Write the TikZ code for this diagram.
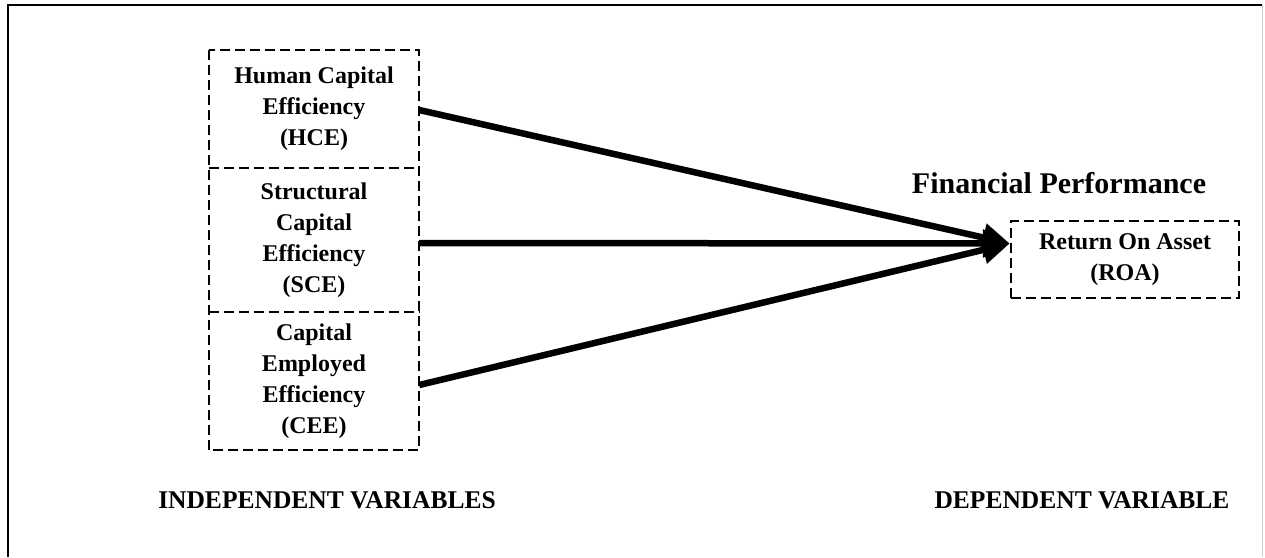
\documentclass[tikz,border=0pt]{standalone}
\usepackage{fontspec}
\setmainfont{Liberation Serif}
\usetikzlibrary{arrows.meta}
\begin{document}
\begin{tikzpicture}[x=1pt,y=-1pt,
  dline/.style={line width=2.5pt,dash pattern=on 10pt off 5pt},
  tbox/.style={rectangle,inner sep=0pt,align=center,minimum width=210pt,
    font=\fontsize{24}{31}\selectfont\bfseries},
  lbl/.style={font=\fontsize{25.5}{30}\selectfont\bfseries,inner sep=0pt},
  conn/.style={line width=6.5pt,-{Triangle[length=27pt,width=27pt]}}]
\useasboundingbox (0,0) rectangle (1265,557);
\draw[line width=2.4pt] (8,557) -- (8,5) -- (1262,5);
\draw[line width=1pt,black!20] (1262,5) -- (1262,557);
\node[tbox,minimum height=118pt] (HCE) at (314,109) {Human Capital\\Efficiency\\(HCE)};
\node[tbox,minimum height=144pt] (SCE) at (314,240) {Structural\\Capital\\Efficiency\\(SCE)};
\node[tbox,minimum height=138pt] (CEE) at (314,381) {Capital\\Employed\\Efficiency\\(CEE)};
\draw[dline] (HCE.north west) rectangle (CEE.south east);
\draw[dline] (HCE.south west) -- (HCE.south east);
\draw[dline] (SCE.south west) -- (SCE.south east);
\node[tbox,draw,dline,minimum width=228pt,minimum height=77pt] (ROA) at (1125,259.5) {Return On Asset\\(ROA)};
\node[lbl,font=\fontsize{30}{34}\selectfont\bfseries,anchor=base] (FP) at (1059,193) {Financial Performance};
\node[lbl] (IV) at (327,500) {INDEPENDENT VARIABLES};
\node[lbl] (DV) at (1082,500) {DEPENDENT VARIABLE};
\coordinate (tip) at ([yshift=16pt]ROA.west);
\draw[conn] ([yshift=-1pt]HCE.east) -- (tip);
\draw[conn] ([yshift=-3pt]SCE.east) -- (tip);
\draw[conn] ([yshift=-4pt]CEE.east) -- (tip);
\end{tikzpicture}
\end{document}
